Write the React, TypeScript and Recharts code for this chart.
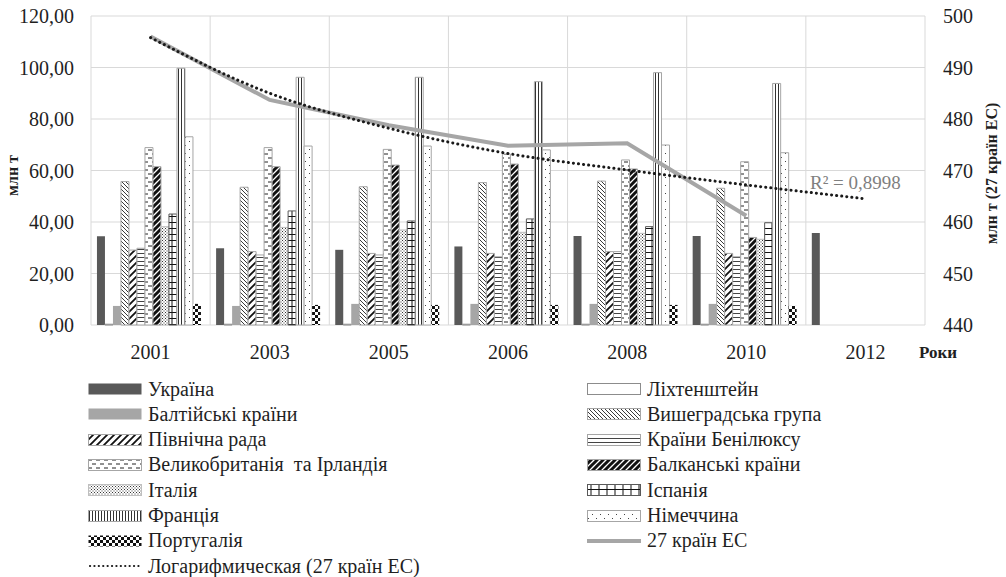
import {
  Bar,
  CartesianGrid,
  ComposedChart,
  LabelList,
  Line,
  XAxis,
  YAxis,
} from "recharts";

const years = ["2001", "2003", "2005", "2006", "2008", "2010", "2012"];

const ukraine = [34.5, 29.8, 29.2, 30.5, 34.6, 34.6, 35.7];
const liechtenstein = [0.3, 0.3, 0.3, 0.3, 0.3, 0.3, null];
const baltic = [7.4, 7.4, 8.2, 8.2, 8.2, 8.2, null];
const visegrad = [55.7, 53.5, 53.7, 55.3, 55.9, 53.1, null];
const nordic = [29.1, 28.5, 27.8, 27.8, 28.5, 27.8, null];
const benelux = [29.8, 27.2, 27.2, 26.5, 28.5, 26.5, null];
const ukIreland = [68.9, 68.9, 68.2, 66.4, 64.1, 63.4, null];
const balkan = [61.5, 61.5, 62.1, 62.5, 60.6, 34.0, null];
const italy = [38.2, 37.9, 36.9, 36.0, 35.6, 33.3, null];
const spain = [43.1, 44.3, 40.4, 41.2, 38.2, 39.7, null];
const france = [99.7, 96.2, 96.2, 94.5, 98.0, 93.8, null];
const germany = [73.1, 69.5, 69.5, 68.0, 69.9, 66.9, null];
const portugal = [8.2, 7.8, 7.8, 7.8, 7.8, 7.4, null];

const eu27 = [496.0, 483.7, 478.8, 474.8, 475.3, 461.2, null];
const eu27Trend = [495.8, 485.0, 478.2, 473.3, 470.1, 467.2, 464.5];

const leftTicks = [0, 20, 40, 60, 80, 100, 120];
const rightTicks = [440, 450, 460, 470, 480, 490, 500];

type BarSeries = {
  key: string;
  name: string;
  values: (number | null)[];
  fill: string;
  stroke?: string;
};

const barSeries: BarSeries[] = [
  { key: "ukraine", name: "Україна", values: ukraine, fill: "#595959" },
  { key: "liechtenstein", name: "Ліхтенштейн", values: liechtenstein, fill: "#ffffff", stroke: "#8c8c8c" },
  { key: "baltic", name: "Балтійські країни", values: baltic, fill: "#a6a6a6" },
  { key: "visegrad", name: "Вишеградська група", values: visegrad, fill: "url(#p-visegrad)", stroke: "#a6a6a6" },
  { key: "nordic", name: "Північна рада", values: nordic, fill: "url(#p-nordic)", stroke: "#a6a6a6" },
  { key: "benelux", name: "Країни Бенілюксу", values: benelux, fill: "url(#p-benelux)", stroke: "#a6a6a6" },
  { key: "ukIreland", name: "Великобританія  та Ірландія", values: ukIreland, fill: "url(#p-uk)", stroke: "#a6a6a6" },
  { key: "balkan", name: "Балканські країни", values: balkan, fill: "url(#p-balkan)", stroke: "#a6a6a6" },
  { key: "italy", name: "Італія", values: italy, fill: "url(#p-italy)", stroke: "#bfbfbf" },
  { key: "spain", name: "Іспанія", values: spain, fill: "url(#p-spain)", stroke: "#595959" },
  { key: "france", name: "Франція", values: france, fill: "url(#p-france)", stroke: "#a6a6a6" },
  { key: "germany", name: "Німеччина", values: germany, fill: "url(#p-germany)", stroke: "#a6a6a6" },
  { key: "portugal", name: "Португалія", values: portugal, fill: "url(#p-portugal)" },
];

const chartData = years.map((year, i) => {
  const row: Record<string, string | number | null> = { year };
  barSeries.forEach((s) => {
    row[s.key] = s.values[i];
  });
  row.eu27 = eu27[i];
  row.eu27Trend = eu27Trend[i];
  return row;
});

// legend: left column then right column, like the original
const legendLeft = ["ukraine", "baltic", "nordic", "ukIreland", "italy", "france", "portugal", "trend"];
const legendRight = ["liechtenstein", "visegrad", "benelux", "balkan", "spain", "germany", "eu27"];

const FONT =
  '"Liberation Serif", "Times New Roman", Tinos, "Noto Serif", "DejaVu Serif", FreeSerif, "Nimbus Roman", serif';
const TEXT = "#1f1f1f";

const fmt = (v: number) => v.toFixed(2).replace(".", ",");

function Patterns() {
  return (
    <svg width={0} height={0} style={{ position: "absolute" }}>
      <defs>
        <pattern id="p-visegrad" width="4" height="4" patternUnits="userSpaceOnUse">
          <rect width="4" height="4" fill="#fff" />
          <path d="M-1,-1 L5,5 M-1,3 L1,5 M3,-1 L5,1" stroke="#3a3a3a" strokeWidth="1" />
        </pattern>
        <pattern id="p-nordic" width="7" height="7" patternUnits="userSpaceOnUse">
          <rect width="7" height="7" fill="#fff" />
          <path d="M-1,8 L8,-1 M-2,2 L2,-2 M5,9 L9,5" stroke="#111" strokeWidth="1.8" />
        </pattern>
        <pattern id="p-balkan" width="6" height="6" patternUnits="userSpaceOnUse">
          <rect width="6" height="6" fill="#fff" />
          <path d="M-1,7 L7,-1 M-2,2 L2,-2 M4,8 L8,4" stroke="#111" strokeWidth="3" />
        </pattern>
        <pattern id="p-benelux" width="4" height="4" patternUnits="userSpaceOnUse">
          <rect width="4" height="4" fill="#fff" />
          <path d="M0,1.5 H4" stroke="#444" strokeWidth="1" />
        </pattern>
        <pattern id="p-uk" width="8" height="8" patternUnits="userSpaceOnUse">
          <rect width="8" height="8" fill="#fff" />
          <path d="M0,2 H4 M4,6 H8" stroke="#222" strokeWidth="1" />
        </pattern>
        <pattern id="p-italy" width="3" height="3" patternUnits="userSpaceOnUse">
          <rect width="3" height="3" fill="#fff" />
          <rect x="0" y="0" width="1" height="1" fill="#333" />
          <rect x="1.5" y="1.5" width="1" height="1" fill="#333" />
        </pattern>
        <pattern id="p-spain" width="8" height="6" patternUnits="userSpaceOnUse">
          <rect width="8" height="6" fill="#fff" />
          <path d="M0,0.5 H8 M4,0 V6" stroke="#111" strokeWidth="1" />
        </pattern>
        <pattern id="p-france" width="3" height="3" patternUnits="userSpaceOnUse">
          <rect width="3" height="3" fill="#fff" />
          <path d="M1.5,0 V3" stroke="#333" strokeWidth="1" />
        </pattern>
        <pattern id="p-germany" width="8" height="8" patternUnits="userSpaceOnUse">
          <rect width="8" height="8" fill="#fff" />
          <rect x="1" y="1" width="1" height="1" fill="#444" />
          <rect x="5" y="5" width="1" height="1" fill="#444" />
        </pattern>
        <pattern id="p-portugal" width="6" height="6" patternUnits="userSpaceOnUse">
          <rect width="6" height="6" fill="#fff" />
          <rect x="0" y="0" width="3" height="3" fill="#111" />
          <rect x="3" y="3" width="3" height="3" fill="#111" />
        </pattern>
      </defs>
    </svg>
  );
}

function Swatch({ id }: { id: string }) {
  if (id === "eu27") {
    return (
      <svg width={54} height={14}>
        <line x1={0} y1={7} x2={54} y2={7} stroke="#a6a6a6" strokeWidth={4} />
      </svg>
    );
  }
  if (id === "trend") {
    return (
      <svg width={54} height={14}>
        <line x1={2} y1={7} x2={54} y2={7} stroke="#1a1a1a" strokeWidth={2.2} strokeDasharray="0.1 4.3" strokeLinecap="round" />
      </svg>
    );
  }
  const s = barSeries.find((b) => b.key === id)!;
  return (
    <svg width={54} height={14}>
      <rect x={0.5} y={1.5} width={53} height={11} fill={s.fill} stroke={s.stroke ?? "none"} />
    </svg>
  );
}

function legendName(id: string) {
  if (id === "eu27") return "27 країн ЕС";
  if (id === "trend") return "Логарифмическая (27 країн ЕС)";
  return barSeries.find((b) => b.key === id)!.name;
}

function LegendColumn({ ids, left }: { ids: string[]; left: number }) {
  return (
    <>
      {ids.map((id, i) => (
        <div
          key={id}
          style={{
            position: "absolute",
            left,
            top: 389 + i * 25.3 - 12,
            height: 24,
            display: "flex",
            alignItems: "center",
            gap: 6,
            fontFamily: FONT,
            fontSize: 20,
            color: TEXT,
            whiteSpace: "pre",
          }}
        >
          <Swatch id={id} />
          <span>{legendName(id)}</span>
        </div>
      ))}
    </>
  );
}

export default function App() {
  return (
    <div style={{ position: "relative", width: 1006, height: 577, background: "#fff", overflow: "hidden", fontFamily: FONT }}>
      <style>{"body{margin:0}"}</style>
      <Patterns />
      <ComposedChart
        width={1006}
        height={370}
        data={chartData}
        margin={{ top: 16, right: 0, bottom: 0, left: 0 }}
        barCategoryGap="5%"
        barGap={0}
        style={{ fontFamily: FONT }}
      >
        <CartesianGrid
          yAxisId="left"
          stroke="#d9d9d9"
          strokeWidth={1}
          verticalCoordinatesGenerator={({ offset }: any) =>
            years.concat([""]).map((_, i) => offset.left + (offset.width * i) / years.length)
          }
        />
        <XAxis
          dataKey="year"
          height={45}
          axisLine={false}
          tickLine={false}
          tickMargin={14}
          tick={{ fontSize: 20, fill: TEXT, fontFamily: FONT }}
          label={{
            content: ({ viewBox }: any) => (
              <text
                x={viewBox.x + viewBox.width + 13}
                y={viewBox.y + 27}
                textAnchor="middle"
                dominantBaseline="central"
                fontFamily={FONT}
                fontSize={17}
                fontWeight="bold"
                fill={TEXT}
              >
                Роки
              </text>
            ),
          }}
        />
        <YAxis
          yAxisId="left"
          width={91}
          domain={[0, 120]}
          ticks={leftTicks}
          tickFormatter={fmt}
          axisLine={false}
          tickLine={false}
          tickMargin={11}
          tick={{ fontSize: 20, fill: TEXT, fontFamily: FONT }}
          label={{
            content: ({ viewBox }: any) => {
              const cx = viewBox.x + 12;
              const cy = viewBox.y + viewBox.height / 2 + 5;
              return (
                <text
                  x={cx}
                  y={cy}
                  transform={`rotate(-90 ${cx} ${cy})`}
                  textAnchor="middle"
                  dominantBaseline="central"
                  fontFamily={FONT}
                  fontSize={16}
                  fontWeight="bold"
                  fill={TEXT}
                >
                  млн т
                </text>
              );
            },
          }}
        />
        <YAxis
          yAxisId="right"
          orientation="right"
          width={81}
          domain={[440, 500]}
          ticks={rightTicks}
          axisLine={false}
          tickLine={false}
          tickMargin={12}
          tick={{ fontSize: 20, fill: TEXT, fontFamily: FONT, textAnchor: "start" }}
          label={{
            content: ({ viewBox }: any) => {
              const cx = viewBox.x + viewBox.width - 15;
              const cy = viewBox.y + viewBox.height / 2 + 3;
              return (
                <text
                  x={cx}
                  y={cy}
                  transform={`rotate(-90 ${cx} ${cy})`}
                  textAnchor="middle"
                  dominantBaseline="central"
                  fontFamily={FONT}
                  fontSize={16}
                  fontWeight="bold"
                  fill={TEXT}
                >
                  млн т (27 країн ЕС)
                </text>
              );
            },
          }}
        />

        {barSeries.map((s) => (
          <Bar
            key={s.key}
            yAxisId="left"
            dataKey={s.key}
            name={s.name}
            fill={s.fill}
            stroke={s.stroke ?? "none"}
            strokeWidth={1}
            isAnimationActive={false}
          />
        ))}

        <Line
          yAxisId="right"
          dataKey="eu27"
          name="27 країн ЕС"
          stroke="#a6a6a6"
          strokeWidth={4}
          dot={false}
          activeDot={false}
          isAnimationActive={false}
        />
        <Line
          yAxisId="right"
          type="monotone"
          dataKey="eu27Trend"
          name="Логарифмическая (27 країн ЕС)"
          stroke="#1a1a1a"
          strokeWidth={3}
          strokeDasharray="0.1 5"
          strokeLinecap="round"
          dot={false}
          activeDot={false}
          isAnimationActive={false}
        >
          <LabelList
            dataKey="eu27Trend"
            content={(props: any) => {
              if (props.index !== years.length - 1) return null;
              return (
                <text
                  x={props.x - 10}
                  y={props.y - 16}
                  textAnchor="middle"
                  dominantBaseline="central"
                  fontFamily={FONT}
                  fontSize={19}
                  fill="#7f7f7f"
                >
                  R² = 0,8998
                </text>
              );
            }}
          />
        </Line>
      </ComposedChart>

      <LegendColumn ids={legendLeft} left={88} />
      <LegendColumn ids={legendRight} left={587} />
    </div>
  );
}
